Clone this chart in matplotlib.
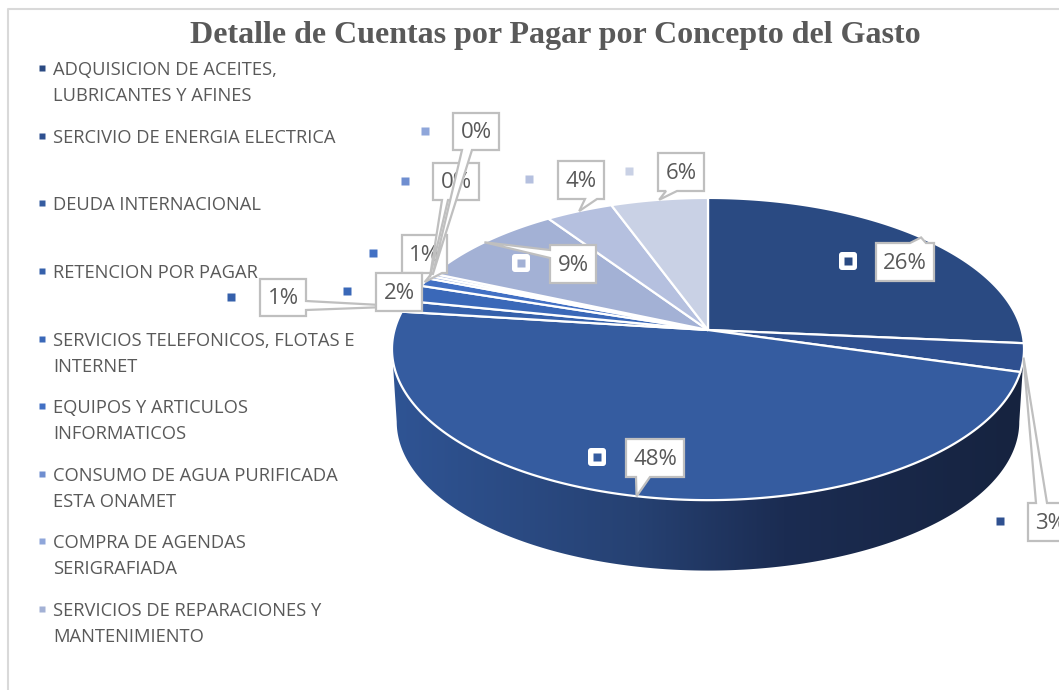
import numpy as np
import matplotlib
matplotlib.use('Agg')
import matplotlib.pyplot as plt
from matplotlib.colors import LinearSegmentedColormap
from matplotlib.patches import Polygon, FancyBboxPatch

TITLE = 'Detalle de Cuentas por Pagar por Concepto del Gasto'

# slices, clockwise from 12 o'clock (the last two are not shown in the legend)
slice_values = [26.4, 3.0, 47.6, 1.2, 1.8, 0.9, 0.3, 0.3, 9.0, 3.9, 5.6]
slice_colors = ['#2A4A82', '#2F5090', '#355CA0', '#3560AB', '#3A68B8', '#4270C4',
                '#6F8ED0', '#8FA6DA', '#A3B1D5', '#B5C0DF', '#C9D1E5']

legend_labels = ['ADQUISICION DE ACEITES,\nLUBRICANTES Y AFINES',
                 'SERCIVIO DE ENERGIA ELECTRICA',
                 'DEUDA INTERNACIONAL',
                 'RETENCION POR PAGAR',
                 'SERVICIOS TELEFONICOS, FLOTAS E\nINTERNET',
                 'EQUIPOS Y ARTICULOS\nINFORMATICOS',
                 'CONSUMO DE AGUA PURIFICADA\nESTA ONAMET',
                 'COMPRA DE AGENDAS\nSERIGRAFIADA',
                 'SERVICIOS DE REPARACIONES Y\nMANTENIMIENTO']

# layout, in pixels of the 1059x690 picture
legend_y = [68, 136, 203, 271, 339, 406, 474, 541, 609]
# box (x0, y0, x1, y1), side of the pointer, its base (a, b), key marker (x, y), key on the pie
label_layout = [
    ((876, 243, 934, 281), 'top', (910, 926), (848, 261), True),
    ((1028, 503, 1074, 541), 'top', (1036, 1047), (1000, 521), False),
    ((626, 439, 684, 477), 'bottom', (636, 650), (597, 457), True),
    ((260, 279, 306, 316), 'right', (301, 310), (231, 297), False),
    ((376, 273, 422, 311), 'right', (290, 300), (347, 291), False),
    ((402, 235, 447, 273), 'bottom', (432, 442), (373, 253), False),
    ((433, 163, 479, 200), 'bottom', (442, 448), (405, 181), False),
    ((453, 113, 499, 150), 'bottom', (462, 472), (425, 131), False),
    ((550, 245, 596, 283), 'left', (250, 258), (521, 263), True),
    ((558, 161, 604, 199), 'bottom', (585, 597), (529, 179), False),
    ((658, 153, 704, 191), 'bottom', (666, 677), (629, 171), False),
]
# boxes are stacked in this order, later ones on top
label_order = [3, 5, 6, 7, 4, 0, 1, 2, 8, 9, 10]

APEX_X, APEX_Y = 708, 330
SCALE_X, SCALE_Y, PERSP = 313.5, 148.7, 0.126
DEPTH_Y, DEPTH_SCALE = 73, 0.985

GREY = '#595959'
EDGE = '#BFBFBF'


def rim(frac, scale=1.0, apex_y=APEX_Y):
    # fraction of the turn to a point on the tilted disc
    t = 2 * np.pi * np.asarray(frac)
    x, y = np.sin(t), np.cos(t)
    w = 1 + PERSP * y
    return APEX_X + scale * SCALE_X * x / w, apex_y - scale * SCALE_Y * y / w


def draw_wall(ax):
    t_r = np.arccos(-PERSP) / (2 * np.pi)
    fr = np.linspace(t_r, 1 - t_r, 300)
    x1, y1 = rim(fr)
    x2, y2 = rim(fr[::-1], DEPTH_SCALE, APEX_Y + DEPTH_Y)
    outline = Polygon(np.column_stack([np.r_[x1, x2], np.r_[y1, y2]]), closed=True,
                      facecolor='none', edgecolor='none', transform=ax.transData)
    ax.add_patch(outline)
    cmap = LinearSegmentedColormap.from_list('wall', [(0, '#2F5494'), (0.39, '#264172'),
                                                      (0.62, '#1B2C52'), (1, '#16233F')])
    im = ax.imshow(np.linspace(0, 1, 256)[None, :], cmap=cmap, aspect='auto',
                   extent=(392, 1024, 580, 340), zorder=1)
    im.set_clip_path(outline)


def draw_slices(ax, edges):
    for i, color in enumerate(slice_colors):
        n = max(int(slice_values[i] * 4), 3)
        x, y = rim(np.linspace(edges[i], edges[i + 1], n))
        pts = np.column_stack([np.r_[APEX_X, x], np.r_[APEX_Y, y]])
        ax.add_patch(Polygon(pts, closed=True, facecolor=color, edgecolor='white',
                             linewidth=1.6, joinstyle='round', zorder=2))


def callout(box, side, base, tip):
    x0, y0, x1, y1 = box
    a, b = base
    # tip under the box itself: no pointer to draw
    if x0 <= tip[0] <= x1 and y0 <= tip[1] <= y1:
        return [(x0, y0), (x1, y0), (x1, y1), (x0, y1)]
    if side == 'top':
        return [(x0, y0), (a, y0), tip, (b, y0), (x1, y0), (x1, y1), (x0, y1)]
    if side == 'bottom':
        return [(x0, y0), (x1, y0), (x1, y1), (b, y1), tip, (a, y1), (x0, y1)]
    if side == 'right':
        return [(x0, y0), (x1, y0), (x1, a), tip, (x1, b), (x1, y1), (x0, y1)]
    return [(x0, y0), (x1, y0), (x1, y1), (x0, y1), (x0, b), tip, (x0, a)]


def draw_labels(ax, edges, fracs):
    mids = (edges[:-1] + edges[1:]) / 2
    for n, i in enumerate(label_order):
        box, side, base, key, on_pie = label_layout[i]
        tip = tuple(float(v) for v in rim(mids[i]))
        z = 5 + n * 0.1
        ax.add_patch(Polygon(callout(box, side, base, tip), closed=True, facecolor='white',
                             edgecolor=EDGE, linewidth=1.6, joinstyle='miter', zorder=z))
        ax.text((box[0] + box[2]) / 2, (box[1] + box[3]) / 2 + 1.5, '%.0f%%' % fracs[i], color=GREY,
                fontsize=16, family='Open Sans', ha='center', va='center', zorder=z + 0.05)
        if on_pie:
            ax.add_patch(FancyBboxPatch((key[0] - 6, key[1] - 6), 12, 12,
                                        boxstyle='round,pad=3,rounding_size=3',
                                        facecolor='white', edgecolor='none', zorder=4))
        ax.plot([key[0]], [key[1]], marker='s', markersize=5.5, color=slice_colors[i],
                markeredgecolor='none', linestyle='none', zorder=4.5)


def draw_legend(ax):
    for i, label in enumerate(legend_labels):
        ax.plot([42], [legend_y[i]], marker='s', markersize=5, color=slice_colors[i],
                markeredgecolor='none', linestyle='none', zorder=3)
        for j, line in enumerate(label.split('\n')):
            ax.text(53, legend_y[i] + 2 + 26 * j, line, color=GREY, fontsize=13.25,
                    family='Open Sans', ha='left', va='center', zorder=3)


def main():
    fig = plt.figure(figsize=(10.59, 6.90), dpi=100)
    ax = fig.add_axes([0, 0, 1, 1])

    values = np.array(slice_values, dtype=float)
    fracs = 100 * values / values.sum()
    edges = np.r_[0, np.cumsum(values)] / values.sum()

    draw_wall(ax)
    draw_slices(ax, edges)
    draw_legend(ax)
    draw_labels(ax, edges, fracs)

    ax.plot([1059, 8, 8], [9, 9, 690], color='#D9D9D9', linewidth=1.5, zorder=1)
    ax.text(555, 35, TITLE, color=GREY, fontsize=23, fontweight='bold',
            family='Liberation Serif', ha='center', va='center')

    ax.set_xlim(0, 1059)
    ax.set_ylim(690, 0)
    ax.axis('off')
    fig.savefig('out.png', dpi=100, facecolor='white')


if __name__ == '__main__':
    main()
